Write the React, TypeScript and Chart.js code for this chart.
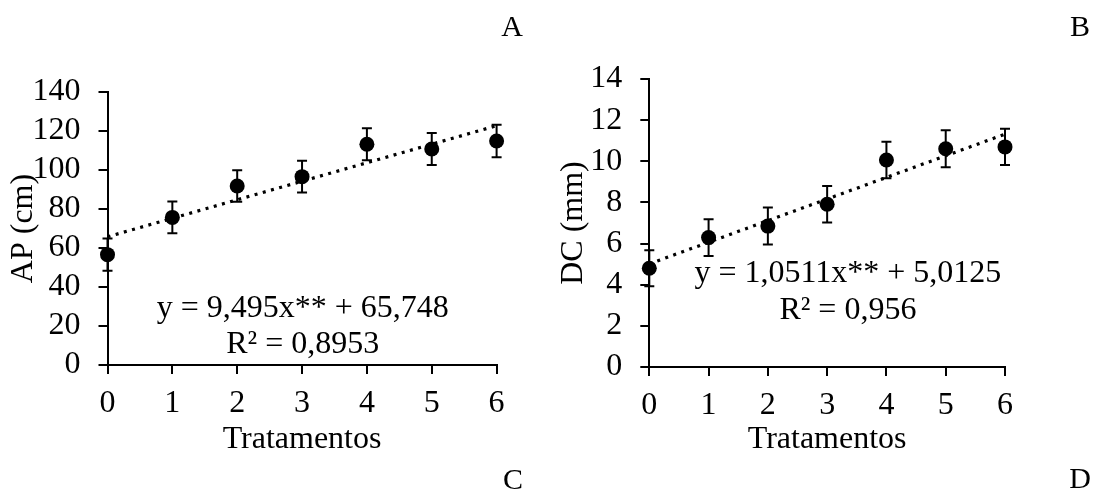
import React, { useEffect, useRef } from 'react';
import { Chart, registerables } from 'chart.js';

Chart.register(...registerables);

// ---------- data ----------
const treatments = [0, 1, 2, 3, 4, 5, 6];

const apMeans = [56.6, 75.7, 91.8, 96.6, 113.2, 110.8, 114.9];
const apErrors = [8.3, 8.1, 8.1, 8.2, 8.2, 8.2, 8.3];
const apSlope = 9.495;
const apIntercept = 65.748;
const apEquation = 'y = 9,495x** + 65,748';
const apR2 = 'R² = 0,8953';

const dcMeans = [4.8, 6.29, 6.85, 7.91, 10.06, 10.61, 10.7];
const dcErrors = [0.87, 0.89, 0.9, 0.89, 0.89, 0.9, 0.88];
const dcSlope = 1.0511;
const dcIntercept = 5.0125;
const dcEquation = 'y = 1,0511x** + 5,0125';
const dcR2 = 'R² = 0,956';

const panelLetters = ['A', 'B', 'C', 'D'];

// ---------- style ----------
const FONT = "'Liberation Serif', 'Times New Roman', serif";
const FS = 32;
const H = 491;
const XH = 100;

const errorBarPlugin = {
  id: 'errorBars',
  beforeDatasetsDraw(chart: any) {
    const { ctx } = chart;
    const xs = chart.scales.x;
    const ys = chart.scales.y;
    chart.data.datasets.forEach((ds: any) => {
      if (!ds.errors) return;
      ctx.save();
      ctx.strokeStyle = '#000';
      ctx.lineWidth = 2;
      ds.data.forEach((p: any, j: number) => {
        const e = ds.errors[j];
        const px = xs.getPixelForValue(p.x);
        const top = ys.getPixelForValue(p.y + e);
        const bot = ys.getPixelForValue(p.y - e);
        ctx.beginPath();
        ctx.moveTo(px, top);
        ctx.lineTo(px, bot);
        ctx.moveTo(px - 5, top);
        ctx.lineTo(px + 5, top);
        ctx.moveTo(px - 5, bot);
        ctx.lineTo(px + 5, bot);
        ctx.stroke();
      });
      ctx.restore();
    });
  },
};

function makeEquationPlugin(lines: { text: string; x: number; y: number }[]) {
  return {
    id: 'equationText',
    afterDatasetsDraw(chart: any) {
      const { ctx } = chart;
      const xs = chart.scales.x;
      const ys = chart.scales.y;
      ctx.save();
      ctx.font = `${FS}px ${FONT}`;
      ctx.fillStyle = '#000';
      ctx.textAlign = 'center';
      ctx.textBaseline = 'alphabetic';
      lines.forEach((l) => ctx.fillText(l.text, xs.getPixelForValue(l.x), ys.getPixelForValue(l.y)));
      ctx.restore();
    },
  };
}

type Props = {
  means: number[];
  errors: number[];
  slope: number;
  intercept: number;
  yMax: number;
  yStep: number;
  yTitle: string;
  eqLines: { text: string; x: number; y: number }[];
  left: number;
  width: number;
  area: { left: number; right: number; top: number; bottom: number };
  yTitlePad: number;
  xTitlePad: number;
};

function RegressionChart(p: Props) {
  const ref = useRef<HTMLCanvasElement | null>(null);
  useEffect(() => {
    if (!ref.current) return;
    const font = { family: FONT, size: FS, lineHeight: 1.2 };
    const x0 = treatments[0];
    const x1 = treatments[treatments.length - 1];
    const chart = new Chart(ref.current, {
      type: 'scatter',
      data: {
        datasets: [
          {
            data: treatments.map((t, i) => ({ x: t, y: p.means[i] })),
            errors: p.errors,
            pointRadius: 7.5,
            pointHoverRadius: 7.5,
            backgroundColor: '#000',
            borderWidth: 0,
            showLine: false,
            clip: false,
          } as any,
          {
            data: [
              { x: x0, y: p.slope * x0 + p.intercept },
              { x: x1, y: p.slope * x1 + p.intercept },
            ],
            showLine: true,
            pointRadius: 0,
            borderColor: '#000',
            borderWidth: 3.2,
            borderDash: [3, 5.5],
            clip: false,
          } as any,
        ],
      },
      options: {
        responsive: false,
        animation: false,
        devicePixelRatio: 1,
        layout: {
          padding: {
            left: 0,
            top: p.area.top,
            right: p.width - p.area.right,
            bottom: H - p.area.bottom - XH,
          },
        },
        plugins: { legend: { display: false }, tooltip: { enabled: false } },
        scales: {
          x: {
            type: 'linear',
            min: 0,
            max: 6,
            afterFit: (s: any) => {
              s.height = XH;
            },
            ticks: { stepSize: 1, color: '#000', font, padding: 10, maxRotation: 0, autoSkip: false },
            grid: { drawOnChartArea: false, color: '#000', lineWidth: 2, tickLength: 9 },
            border: { color: '#000', width: 2 },
            title: {
              display: true,
              text: 'Tratamentos',
              color: '#000',
              font,
              padding: { top: 0, bottom: p.xTitlePad },
            },
          },
          y: {
            min: 0,
            max: p.yMax,
            afterFit: (s: any) => {
              s.width = p.area.left;
            },
            ticks: { stepSize: p.yStep, color: '#000', font, padding: 18, autoSkip: false },
            grid: { drawOnChartArea: false, color: '#000', lineWidth: 2, tickLength: 9 },
            border: { color: '#000', width: 2 },
            title: {
              display: true,
              text: p.yTitle,
              color: '#000',
              font,
              padding: { top: p.yTitlePad, bottom: 0 },
            },
          },
        },
      } as any,
      plugins: [errorBarPlugin, makeEquationPlugin(p.eqLines)],
    });
    return () => chart.destroy();
  }, []);
  return (
    <canvas
      ref={ref}
      width={p.width}
      height={H}
      style={{ position: 'absolute', left: p.left, top: 0, width: p.width, height: H }}
    />
  );
}

const letterStyle = (cx: number, top: number): React.CSSProperties => ({
  position: 'absolute',
  left: cx - 20,
  top,
  width: 40,
  textAlign: 'center',
  fontFamily: FONT,
  fontSize: 30,
  lineHeight: '30px',
  color: '#000',
});

export default function App() {
  return (
    <div style={{ position: 'absolute', left: 0, top: 0, width: 1093, height: H, background: '#fff', overflow: 'hidden' }}>
      <RegressionChart
        means={apMeans}
        errors={apErrors}
        slope={apSlope}
        intercept={apIntercept}
        yMax={140}
        yStep={20}
        yTitle="AP (cm)"
        eqLines={[
          { text: apEquation, x: 3.01, y: 24.8 },
          { text: apR2, x: 3.01, y: 6.15 },
        ]}
        left={0}
        width={546}
        area={{ left: 107.5, right: 496.6, top: 92, bottom: 365 }}
        yTitlePad={4.8}
        xTitlePad={6}
      />
      <RegressionChart
        means={dcMeans}
        errors={dcErrors}
        slope={dcSlope}
        intercept={dcIntercept}
        yMax={14}
        yStep={2}
        yTitle="DC (mm)"
        eqLines={[
          { text: dcEquation, x: 3.35, y: 4.15 },
          { text: dcR2, x: 3.35, y: 2.31 },
        ]}
        left={546}
        width={547}
        area={{ left: 103.3, right: 459, top: 79, bottom: 367 }}
        yTitlePad={8.3}
        xTitlePad={8}
      />
      <div style={letterStyle(512, 11)}>{panelLetters[0]}</div>
      <div style={letterStyle(1080, 11)}>{panelLetters[1]}</div>
      <div style={letterStyle(513, 464)}>{panelLetters[2]}</div>
      <div style={letterStyle(1080, 463)}>{panelLetters[3]}</div>
    </div>
  );
}
